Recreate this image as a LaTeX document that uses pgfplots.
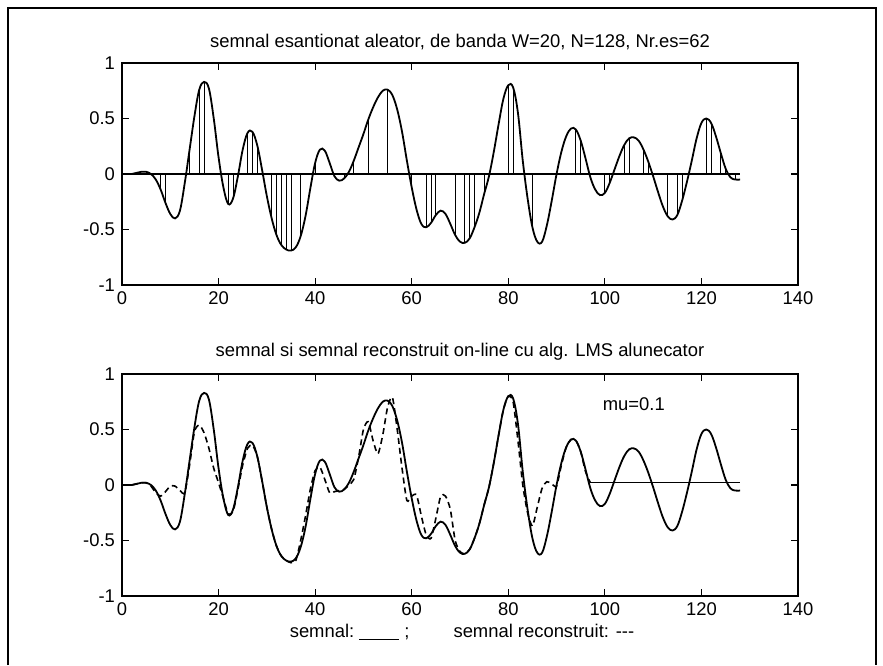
\documentclass[border=0pt]{standalone}
\usepackage{fontspec}
\setmainfont{Liberation Sans}
\usepackage{pgfplots}
\usepackage{pgfplotstable}
\pgfplotsset{compat=1.18}

\pgfplotstableread{
n s
0 0.00
1 0.00
2 0.00
3 0.01
4 0.02
5 0.02
6 0.00
7 -0.05
8 -0.14
9 -0.26
10 -0.36
11 -0.40
12 -0.33
13 -0.08
14 0.22
15 0.52
16 0.76
17 0.83
18 0.77
19 0.50
20 0.15
21 -0.12
22 -0.27
23 -0.22
24 -0.02
25 0.22
26 0.37
27 0.38
28 0.26
29 0.04
30 -0.20
31 -0.40
32 -0.55
33 -0.64
34 -0.68
35 -0.69
36 -0.66
37 -0.56
38 -0.38
39 -0.13
40 0.10
41 0.22
42 0.21
43 0.10
44 -0.02
45 -0.06
46 -0.04
47 0.02
48 0.12
49 0.24
50 0.36
51 0.49
52 0.60
53 0.69
54 0.75
55 0.76
56 0.71
57 0.58
58 0.38
59 0.12
60 -0.12
61 -0.32
62 -0.45
63 -0.48
64 -0.44
65 -0.37
66 -0.33
67 -0.36
68 -0.45
69 -0.55
70 -0.61
71 -0.62
72 -0.58
73 -0.48
74 -0.35
75 -0.18
76 -0.02
77 0.20
78 0.45
79 0.68
80 0.80
81 0.78
82 0.55
83 0.12
84 -0.22
85 -0.48
86 -0.61
87 -0.61
88 -0.46
89 -0.24
90 0.00
91 0.20
92 0.34
93 0.41
94 0.40
95 0.30
96 0.14
97 -0.03
98 -0.14
99 -0.19
100 -0.17
101 -0.08
102 0.04
103 0.16
104 0.26
105 0.32
106 0.33
107 0.30
108 0.22
109 0.11
110 -0.02
111 -0.16
112 -0.29
113 -0.38
114 -0.41
115 -0.37
116 -0.24
117 -0.07
118 0.12
119 0.32
120 0.46
121 0.50
122 0.46
123 0.34
124 0.19
125 0.05
126 -0.03
127 -0.05
128 -0.05
}\sig

\pgfplotstableread{
n v
8 -0.14
9 -0.26
14 0.22
16 0.76
17 0.83
22 -0.27
23 -0.22
26 0.37
27 0.38
28 0.26
29 0.04
31 -0.40
32 -0.55
33 -0.64
34 -0.68
35 -0.69
37 -0.56
40 0.10
46 -0.04
48 0.12
51 0.49
55 0.76
60 -0.12
63 -0.48
64 -0.44
65 -0.37
69 -0.55
71 -0.62
72 -0.58
73 -0.48
75 -0.18
80 0.80
81 0.78
85 -0.48
94 0.40
95 0.30
100 -0.17
101 -0.08
104 0.26
105 0.32
108 0.22
109 0.11
113 -0.38
115 -0.37
116 -0.24
121 0.50
122 0.46
124 0.19
125 0.05
127 -0.05
}\stems

\pgfplotstableread{
n r
0 0.00
1 0.00
2 0.00
3 0.01
4 0.02
5 0.02
6 -0.01
7 -0.07
8 -0.10
9 -0.06
10 -0.01
11 -0.01
12 -0.05
13 -0.07
14 0.18
15 0.48
16 0.54
17 0.47
18 0.33
19 0.15
20 0.02
21 -0.12
22 -0.26
23 -0.24
24 -0.04
25 0.18
26 0.33
27 0.36
28 0.26
29 0.04
30 -0.20
31 -0.40
32 -0.55
33 -0.64
34 -0.68
35 -0.70
36 -0.68
37 -0.50
38 -0.28
39 -0.04
40 0.13
41 0.16
42 0.05
43 -0.07
44 -0.06
45 -0.05
46 -0.04
47 0.00
48 0.05
49 0.25
50 0.50
51 0.57
52 0.40
53 0.28
54 0.45
55 0.70
56 0.79
57 0.50
58 0.15
59 -0.14
60 -0.10
61 -0.09
62 -0.28
63 -0.45
64 -0.48
65 -0.30
66 -0.10
67 -0.10
68 -0.22
69 -0.50
70 -0.60
71 -0.62
72 -0.58
73 -0.48
74 -0.35
75 -0.18
76 -0.02
77 0.20
78 0.45
79 0.68
80 0.80
81 0.75
82 0.40
83 0.00
84 -0.25
85 -0.37
86 -0.20
87 -0.03
88 0.03
89 0.01
90 -0.01
91 0.18
92 0.34
93 0.41
94 0.40
95 0.30
96 0.12
97 0.02
}\rec

\pgfplotstableread{
n r
97 0.02
128 0.02
}\recflat

\newcommand{\fs}{\fontsize{9.2}{11}\selectfont}

\pgfplotsset{
  matlab/.style={
    scale only axis, width=338pt, height=111pt,
    xmin=0, xmax=140, ymin=-1, ymax=1,
    xtick={0,20,...,140}, ytick={-1,-0.5,0,0.5,1},
    tick align=inside, tick pos=both, ticklabel pos=left,
    major tick length=3.5pt,
    axis line style={line width=0.7pt},
    tick style={line width=0.6pt, black},
    ticklabel style={font=\fs},
    /pgf/number format/assume math mode=true,
    clip=true,
  }
}

\begin{document}
\begin{tikzpicture}
\useasboundingbox (0pt,0pt) rectangle (441.5pt,332.5pt);
\draw[line width=0.8pt] (4pt,0pt) -- (4pt,328.5pt) -- (438pt,328.5pt) -- (438pt,0pt);

\node[font=\fs] at (230pt,311.5pt) {semnal esantionat aleator, de banda W=20, N=128, Nr.es=62};
\node[font=\fs] at (230pt,156.5pt) {semnal si semnal reconstruit on-line cu alg. LMS alunecator};
\node[font=\fs] at (231pt,16.5pt) {semnal:\ \rule[-1.5pt]{20pt}{0.5pt}\ ;\hspace{22pt}semnal reconstruit: -{}-{}-};

\begin{axis}[matlab, at={(61pt,190pt)}, anchor=south west]
  \addplot[black, line width=0.5pt, ycomb, no marks] table[x=n, y=v] {\stems};
  \addplot[black, line width=0.8pt] coordinates {(0,0) (128,0)};
  \addplot[black, line width=0.9pt, smooth, tension=0.6] table[x=n, y=s] {\sig};
\end{axis}

\begin{axis}[matlab, at={(61pt,34.5pt)}, anchor=south west]
  \addplot[black, line width=0.9pt, smooth, tension=0.6] table[x=n, y=s] {\sig};
  \addplot[black, line width=0.8pt, dash pattern=on 3pt off 2pt, smooth, tension=0.4] table[x=n, y=r] {\rec};
  \addplot[black, line width=0.7pt] table[x=n, y=r] {\recflat};
  \node[font=\fs] at (axis cs:106,0.73) {mu=0.1};
\end{axis}
\end{tikzpicture}
\end{document}
